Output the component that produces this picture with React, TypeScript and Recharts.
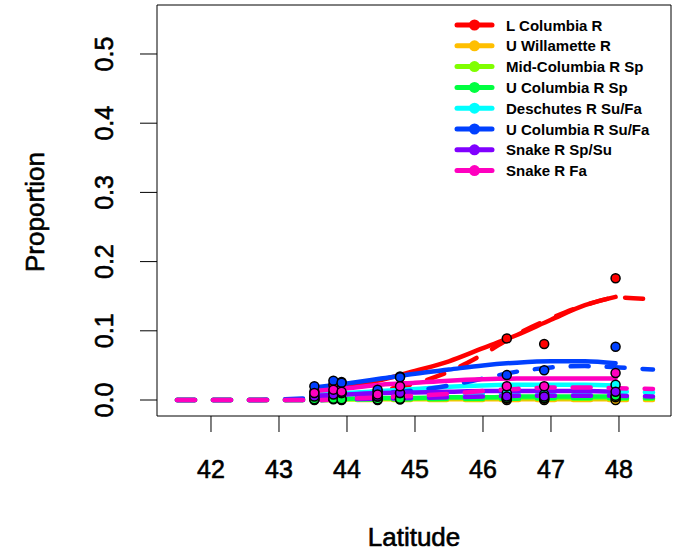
import { ComposedChart, Line, Scatter, XAxis, YAxis, ReferenceArea, Label } from "recharts"

// stocks, in plotting order (rainbow(8))
const stockNames = [
  "L Columbia R",
  "U Willamette R",
  "Mid-Columbia R Sp",
  "U Columbia R Sp",
  "Deschutes R Su/Fa",
  "U Columbia R Su/Fa",
  "Snake R Sp/Su",
  "Snake R Fa",
]
const stockColors = ["#FF0000", "#FFBF00", "#80FF00", "#00FF40", "#00FFFF", "#0040FF", "#8000FF", "#FF00BF"]

// observed proportions at sampling latitudes
const obsLat = [43.52, 43.8, 43.92, 44.45, 44.78, 46.35, 46.9, 47.95]
const observed = [
  [0.012, 0.022, 0.026, 0.012, 0.034, 0.089, 0.081, 0.176],
  [0.002, 0.002, 0.001, 0.003, 0.001, 0.0, 0.0, 0.0],
  [0.0, 0.001, 0.0, 0.0, 0.001, 0.002, 0.002, 0.004],
  [0.001, 0.002, 0.001, 0.001, 0.002, 0.003, 0.003, 0.006],
  [0.006, 0.01, 0.01, 0.005, 0.01, 0.01, 0.008, 0.022],
  [0.02, 0.028, 0.025, 0.015, 0.033, 0.036, 0.043, 0.077],
  [0.005, 0.008, 0.01, 0.005, 0.01, 0.005, 0.005, 0.012],
  [0.01, 0.015, 0.012, 0.008, 0.02, 0.02, 0.02, 0.039],
]

// smoothed fit over sampled range (solid)
const fitLat = [43.52, 44, 44.5, 45, 45.5, 46, 46.5, 47, 47.5, 47.95]
const fitted = [
  [0.014, 0.02, 0.029, 0.042, 0.056, 0.075, 0.094, 0.116, 0.137, 0.149],
  [0.001, 0.001, 0.001, 0.001, 0.001, 0.001, 0.001, 0.001, 0.001, 0.001],
  [0.001, 0.001, 0.002, 0.002, 0.003, 0.003, 0.003, 0.003, 0.003, 0.003],
  [0.002, 0.002, 0.003, 0.003, 0.004, 0.004, 0.005, 0.005, 0.005, 0.005],
  [0.008, 0.01, 0.013, 0.016, 0.019, 0.021, 0.022, 0.022, 0.022, 0.021],
  [0.018, 0.024, 0.031, 0.038, 0.044, 0.05, 0.054, 0.056, 0.056, 0.053],
  [0.006, 0.008, 0.01, 0.011, 0.012, 0.013, 0.013, 0.013, 0.013, 0.012],
  [0.013, 0.017, 0.022, 0.025, 0.028, 0.03, 0.031, 0.031, 0.031, 0.031],
]

// model prediction along the coast (dashed)
const predLat = [41.5, 42, 42.5, 43, 43.5, 44, 44.5, 45, 45.5, 46, 46.5, 47, 47.5, 48, 48.5]
const predicted = [
  [0, 0, 0, 0, 0.002, 0.007, 0.014, 0.024, 0.041, 0.066, 0.095, 0.118, 0.137, 0.148, 0.145],
  [0, 0, 0, 0, 0, 0, 0, 0, 0, 0, 0, 0, 0, 0, 0],
  [0, 0, 0, 0, 0, 0, 0.001, 0.001, 0.001, 0.001, 0.002, 0.002, 0.002, 0.002, 0.002],
  [0, 0, 0, 0, 0, 0.001, 0.001, 0.001, 0.002, 0.002, 0.002, 0.003, 0.003, 0.003, 0.003],
  [0, 0, 0, 0, 0, 0.001, 0.002, 0.004, 0.006, 0.009, 0.011, 0.012, 0.012, 0.012, 0.011],
  [0, 0, 0, 0.001, 0.003, 0.006, 0.01, 0.014, 0.021, 0.031, 0.041, 0.047, 0.049, 0.047, 0.044],
  [0, 0, 0, 0, 0, 0.001, 0.002, 0.003, 0.004, 0.005, 0.006, 0.006, 0.006, 0.006, 0.005],
  [0, 0, 0, 0, 0, 0.002, 0.004, 0.006, 0.009, 0.013, 0.016, 0.018, 0.018, 0.017, 0.016],
]

const latTicks = [42, 43, 44, 45, 46, 47, 48]
const propTicks = [0, 0.1, 0.2, 0.3, 0.4, 0.5]

const xDomain = [41.206, 48.765]
const yDomain = [-0.0231, 0.5708]

const font = "'Liberation Sans', Arial, sans-serif"
const heavy = { stroke: "#000", strokeWidth: 0.6 }

const toXY = (lats: number[], vals: number[]) => lats.map((x, i) => ({ x, y: vals[i] }))

const XTick = ({ x, y, payload }: any) => (
  <text x={x} y={y + 44} textAnchor="middle" fontSize={25} fontFamily={font} fill="#000" {...heavy}>
    {payload.value}
  </text>
)

const YTick = ({ x, y, payload }: any) => {
  const bx = x - 25
  return (
    <text
      x={bx}
      y={y}
      transform={`rotate(-90 ${bx} ${y})`}
      textAnchor="middle"
      fontSize={25}
      fontFamily={font}
      fill="#000"
      {...heavy}
    >
      {payload.value.toFixed(1)}
    </text>
  )
}

const Dot = (color: string) => (props: any) => (
  <circle cx={props.cx} cy={props.cy} r={4.5} fill={color} stroke="#000" strokeWidth={1.5} />
)

function StockLegend() {
  return (
    <svg width={230} height={190} style={{ position: "absolute", left: 440, top: 0 }}>
      {stockNames.map((name, i) => {
        const cy = 25 + i * 20.8
        return (
          <g key={name}>
            <line x1={17} x2={52} y1={cy} y2={cy} stroke={stockColors[i]} strokeWidth={5} strokeLinecap="round" />
            <circle cx={34.5} cy={cy} r={5.5} fill={stockColors[i]} />
            <text x={66} y={cy + 5.5} fontSize={15} fontWeight="bold" fontFamily={font} fill="#000">
              {name}
            </text>
          </g>
        )
      })}
    </svg>
  )
}

export default function App() {
  return (
    <div style={{ position: "absolute", left: 0, top: 0, width: 681, height: 554, background: "#fff" }}>
      <ComposedChart width={681} height={554} margin={{ top: 5, right: 10, bottom: 0, left: 0 }}>
        <XAxis
          type="number"
          dataKey="x"
          domain={xDomain}
          ticks={latTicks}
          allowDataOverflow
          height={138}
          tickSize={16}
          axisLine={false}
          tickLine={{ stroke: "#000", strokeWidth: 1 }}
          tick={<XTick />}
        >
          <Label
            content={() => (
              <text x={414} y={546} textAnchor="middle" fontSize={26} fontFamily={font} fill="#000" {...heavy}>
                Latitude
              </text>
            )}
          />
        </XAxis>
        <YAxis
          type="number"
          dataKey="y"
          domain={yDomain}
          ticks={propTicks}
          allowDataOverflow
          width={157}
          tickSize={17}
          axisLine={false}
          tickLine={{ stroke: "#000", strokeWidth: 1 }}
          tick={<YTick />}
        >
          <Label
            content={() => (
              <text
                x={44}
                y={212}
                transform="rotate(-90 44 212)"
                textAnchor="middle"
                fontSize={26}
                fontFamily={font}
                fill="#000"
                {...heavy}
              >
                Proportion
              </text>
            )}
          />
        </YAxis>
        <ReferenceArea
          x1={xDomain[0]}
          x2={xDomain[1]}
          y1={yDomain[0]}
          y2={yDomain[1]}
          fill="none"
          stroke="#000"
          strokeWidth={1}
          ifOverflow="visible"
        />
        {stockNames.map((name, i) => (
          <Scatter
            key={`obs-${name}`}
            name={name}
            data={toXY(obsLat, observed[i])}
            dataKey="y"
            shape={Dot(stockColors[i])}
            isAnimationActive={false}
          />
        ))}
        {stockNames.flatMap((name, i) => [
          <Line
            key={`fit-${name}`}
            data={toXY(fitLat, fitted[i])}
            dataKey="y"
            type="monotone"
            stroke={stockColors[i]}
            strokeWidth={4.5}
            strokeLinecap="round"
            dot={false}
            activeDot={false}
            isAnimationActive={false}
          />,
          <Line
            key={`pred-${name}`}
            data={toXY(predLat, predicted[i])}
            dataKey="y"
            type="monotone"
            stroke={stockColors[i]}
            strokeWidth={4.5}
            strokeDasharray="18 18"
            strokeLinecap="round"
            dot={false}
            activeDot={false}
            isAnimationActive={false}
          />,
        ])}
      </ComposedChart>
      <StockLegend />
    </div>
  )
}
